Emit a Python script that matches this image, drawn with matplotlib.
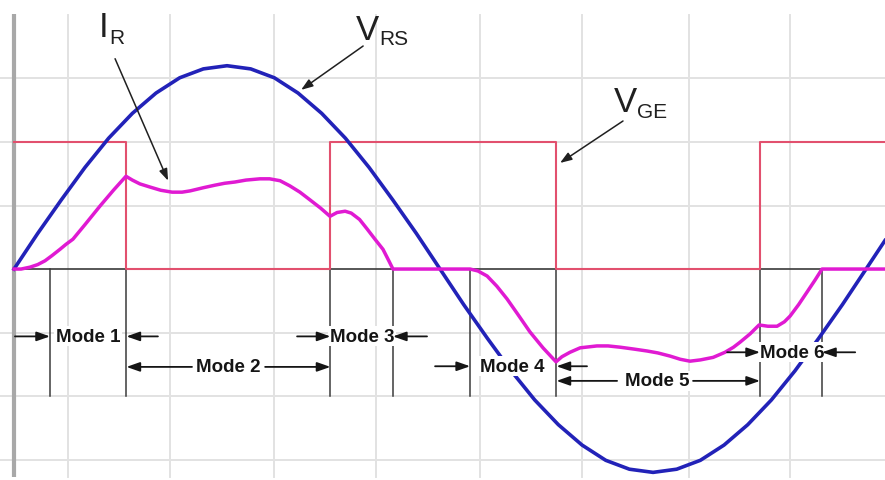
import matplotlib
matplotlib.use("Agg")
import matplotlib.pyplot as plt

plt.rcParams["font.family"] = ["Liberation Sans", "DejaVu Sans"]

# ---------------- data (x: phase angle in degrees, y: grid divisions) ----------------
vrs_x = [0, 10, 20, 30, 40, 50, 60, 70, 80, 90, 100, 110, 120, 130, 140, 150, 160, 170, 180,
         190, 200, 210, 220, 230, 240, 250, 260, 270, 280, 290, 300, 310, 320, 330, 340, 350, 360, 368]
vrs_y = [0.0, 0.56, 1.09, 1.60, 2.06, 2.45, 2.77, 3.01, 3.15, 3.20, 3.15, 3.01, 2.77, 2.45, 2.06, 1.60, 1.09, 0.56, 0.0,
         -0.56, -1.09, -1.60, -2.06, -2.45, -2.77, -3.01, -3.15, -3.20, -3.15, -3.01, -2.77, -2.45, -2.06, -1.60, -1.09, -0.56, 0.0, 0.45]

ir_x = [0, 3, 6.8, 10, 13.1, 16, 19.4, 22, 24.9, 30, 36.3, 42, 47.3,
        50, 53.2, 57.5, 62, 66.8, 71, 74.4, 80, 84.9, 89, 93.4, 98, 103.9, 108, 112.4, 116.5, 120.8, 125, 129.5, 133.5,
        136.5, 139.9, 142.5, 146, 149.2, 152.5, 155.9, 158.5, 160.1,
        192.7, 196, 199.9, 204, 208.3, 213, 218, 223.5, 229,
        231.5, 234.9, 239.2, 246.3, 251, 256.1, 262, 267.5, 272, 277.2, 281.5, 285.6, 290, 295.4, 300.4, 304, 306.8, 311, 314.8,
        318.5, 322.4, 325.5, 327.9, 331.5, 335.1, 338.5, 341.4, 368]
ir_y = [0.0, 0.0, 0.03, 0.07, 0.13, 0.21, 0.31, 0.39, 0.47, 0.70, 0.99, 1.24, 1.46,
        1.40, 1.34, 1.29, 1.24, 1.21, 1.21, 1.23, 1.28, 1.32, 1.35, 1.37, 1.40, 1.42, 1.42, 1.39, 1.31, 1.21, 1.09, 0.96, 0.83,
        0.89, 0.91, 0.88, 0.78, 0.63, 0.47, 0.31, 0.12, 0.0,
        0.0, -0.03, -0.11, -0.27, -0.47, -0.72, -0.99, -1.24, -1.46,
        -1.38, -1.31, -1.24, -1.21, -1.21, -1.23, -1.26, -1.29, -1.32, -1.37, -1.42, -1.45, -1.43, -1.39, -1.31, -1.23, -1.15, -1.02, -0.88,
        -0.90, -0.90, -0.83, -0.74, -0.56, -0.36, -0.17, 0.0, 0.0]

vge_x = [0, 47.5, 47.5, 133.7, 133.7, 229.2, 229.2, 315.2, 315.2, 368]
vge_y = [2.0, 2.0, 0.0, 0.0, 2.0, 2.0, 0.0, 0.0, 2.0, 2.0]

mode_bounds = [15.2, 47.5, 133.7, 160.1, 192.7, 229.2, 315.2, 341.4]
grid_x = [23, 66, 110, 153, 197, 240, 285, 328]
grid_y = [-3, -2, -1, 1, 2, 3]

mode_labels = ["Mode 1", "Mode 2", "Mode 3", "Mode 4", "Mode 5", "Mode 6"]
mode_text_x = [31.3, 90.4, 147.0, 210.4, 271.7, 328.7]
mode_y = [-1.06, -1.54, -1.06, -1.53, -1.76, -1.31]
mode_left_arrow = [(0.4, 15.2), (75.2, 47.5), (119.6, 133.7), (177.9, 192.7), (254.8, 229.2), (301.3, 315.2)]
mode_right_arrow = [(60.8, 47.5), (106.1, 133.7), (174.5, 160.1), (242.1, 229.2), (286.9, 315.2), (355.4, 341.4)]

signal_main = ["I", "V", "V"]
signal_sub = ["R", "RS", "GE"]
signal_main_pos = [(35.9, 3.66), (144.5, 3.62), (253.5, 2.49)]
signal_sub_pos = [(40.1, 3.55), (154.3, 3.54), (263.2, 2.39)]
signal_arrow_tail = [(42.7, 3.31), (147.5, 3.51), (257.3, 2.33)]
signal_arrow_head = [(65.1, 1.39), (121.3, 2.82), (230.7, 1.67)]

# ---------------- figure ----------------
fig = plt.figure(figsize=(8.85, 4.81), dpi=100)
ax = fig.add_axes([0, 0, 1, 1])
X0, X1 = -5.92, 368.0
Y0, Y1 = -3.32, 4.25
ax.set_xlim(X0, X1)
ax.set_ylim(Y0, Y1)
ax.axis("off")

ytop, ybot = 4.0, -3.28
for gx in grid_x:
    ax.plot([gx, gx], [ybot, ytop], color="#e2e2e2", lw=1.4, zorder=0)
for gy in grid_y:
    ax.plot([X0, X1], [gy, gy], color="#e2e2e2", lw=1.4, zorder=0)
ax.plot([0, 0], [ybot, 4.02], color="#a8a8a8", lw=3.0, zorder=1, solid_capstyle="butt")

ax.plot([0, X1], [0, 0], color="#3a3a3a", lw=1.2, zorder=2)
for b in mode_bounds:
    ax.plot([b, b], [0, -2.0], color="#3a3a3a", lw=1.1, zorder=2)

ax.plot(vge_x, vge_y, color="#e2506e", lw=1.5, zorder=3)
ax.plot(vrs_x, vrs_y, color="#2222b8", lw=2.6, zorder=4, solid_joinstyle="round")
ax.plot(ir_x, ir_y, color="#e01ad2", lw=2.5, zorder=7, solid_joinstyle="round")

for txt, tx, ty in zip(mode_labels, mode_text_x, mode_y):
    ax.text(tx, ty, txt, ha="center", va="center", zorder=6, fontsize=13.5, fontweight="bold",
            color="#151515", bbox=dict(boxstyle="square,pad=0.08", fc="white", ec="none"))

arrow_kw = dict(arrowstyle="-|>,head_length=0.8,head_width=0.28", color="#151515", lw=1.3,
                shrinkA=0, shrinkB=0)
for (t, h), ty in zip(mode_left_arrow, mode_y):
    ax.annotate("", xy=(h, ty), xytext=(t, ty), arrowprops=arrow_kw, zorder=8)
for (t, h), ty in zip(mode_right_arrow, mode_y):
    ax.annotate("", xy=(h, ty), xytext=(t, ty), arrowprops=arrow_kw, zorder=8)

for m, (mx, my), s, (sx, sy) in zip(signal_main, signal_main_pos, signal_sub, signal_sub_pos):
    ax.text(mx, my, m, fontsize=25, ha="left", va="baseline", color="#202020", zorder=8)
    ax.text(sx, sy, s, fontsize=15, ha="left", va="baseline", color="#202020", zorder=8)

lab_arrow = dict(arrowstyle="-|>,head_length=0.7,head_width=0.25", color="#202020", lw=1.1,
                 shrinkA=0, shrinkB=0)
for tail, head in zip(signal_arrow_tail, signal_arrow_head):
    ax.annotate("", xy=head, xytext=tail, arrowprops=lab_arrow, zorder=8)

fig.savefig("out.png", dpi=100)
